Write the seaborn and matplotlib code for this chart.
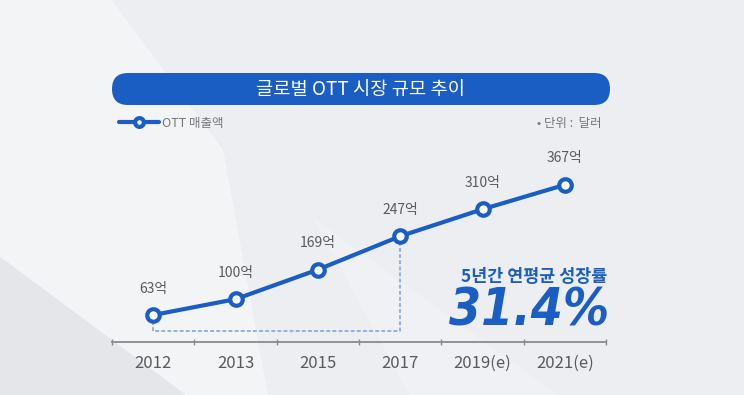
import matplotlib
matplotlib.use("Agg")
import matplotlib.pyplot as plt
import matplotlib.transforms as mtransforms
from matplotlib.patches import FancyBboxPatch, Polygon
import seaborn as sns
import pandas as pd

# 데이터
years = ["2012", "2013", "2015", "2017", "2019(e)", "2021(e)"]
sales = [63, 100, 169, 247, 310, 367]
value_labels = [f"{v}억" for v in sales]
series_name = "OTT 매출액"
title = "글로벌 OTT 시장 규모 추이"
unit_note = "• 단위 :  달러"
cagr_label = "5년간 연평균 성장률"
cagr_value = "31.4%"

BLUE = "#1a5ec4"
GRAY = "#5a5a5a"

sns.set_theme(style="white")
plt.rcParams["font.family"] = ["Noto Sans CJK KR", "DejaVu Sans"]

df = pd.DataFrame({"year": years, "sales": sales})

fig = plt.figure(figsize=(7.44, 3.95), dpi=100, facecolor="#eceef1")

# 배경 광택 느낌 (은은하게)
fig.add_artist(Polygon([(0.0, 1.0), (0.15, 1.0), (0.30, 0.62), (0.36, 0.0), (0.0, 0.0)],
                       closed=True, transform=fig.transFigure,
                       facecolor="#f3f4f6", edgecolor="none", zorder=0))
fig.add_artist(Polygon([(0.0, 0.35), (0.25, 0.0), (0.0, 0.0)],
                       closed=True, transform=fig.transFigure,
                       facecolor="#e4e6ea", edgecolor="none", zorder=0))
fig.add_artist(Polygon([(0.55, 0.0), (0.75, 0.0), (0.42, 0.45)],
                       closed=True, transform=fig.transFigure,
                       facecolor="#f0f1f4", edgecolor="none", zorder=0))

ax = fig.add_axes([112 / 744, 53 / 395, 494 / 744, 182 / 395])
ax.set_facecolor("none")

sns.lineplot(data=df, x="year", y="sales", ax=ax, color=BLUE, linewidth=3,
             marker="o", markersize=9, markerfacecolor="white",
             markeredgecolor=BLUE, markeredgewidth=3, label=series_name,
             zorder=5, sort=False)

ax.set_xlim(-0.5, len(years) - 0.5)
ax.set_ylim(0, 425)

# 값 라벨
for i, (v, lab) in enumerate(zip(sales, value_labels)):
    ax.annotate(lab, (i, v), xytext=(0, 19), textcoords="offset points",
                ha="center", va="center", fontsize=10, color=GRAY)

# 점선 브래킷 (2012 ~ 2017)
ax.plot([0, 0, 3, 3], [sales[0] - 14, 25, 25, sales[3] - 16], ls=(0, (2.5, 1.5)),
        color="#7b9bd6", lw=1.1, zorder=2)

# 축 스타일
for s in ["top", "right", "left"]:
    ax.spines[s].set_visible(False)
ax.spines["bottom"].set_color("#8a8a8a")
ax.spines["bottom"].set_linewidth(1.3)
ax.set_yticks([])
ax.set_xticks(range(len(years)))
ax.set_xticklabels(years, fontsize=12, color=GRAY)
ax.set_xticks([i - 0.5 for i in range(len(years) + 1)], minor=True)
ax.tick_params(axis="x", which="major", length=0, pad=9)
ax.tick_params(axis="x", which="minor", length=5, width=1, color="#8a8a8a",
               direction="inout", bottom=True)
ax.set_xlabel("")
ax.set_ylabel("")

# 범례
leg = ax.legend(loc="center left", bbox_to_anchor=(108 / 744, 272 / 395),
                bbox_transform=fig.transFigure, frameon=False, fontsize=9,
                handlelength=3.2, handletextpad=0.2, labelcolor="#777777",
                markerscale=0.7)
fig.text(602 / 744, 272 / 395, unit_note, ha="right", va="center",
         fontsize=9, color="#777777")

# 제목 바
bar = FancyBboxPatch((112, 290), 498, 32,
                     boxstyle="round,pad=0,rounding_size=16",
                     transform=mtransforms.IdentityTransform(),
                     facecolor=BLUE, edgecolor="none", zorder=3)
fig.add_artist(bar)
fig.text(361 / 744, 306 / 395, title, ha="center", va="center",
         fontsize=13.5, fontweight="medium", color="white", zorder=4)

# 연평균 성장률
fig.text(607 / 744, 118 / 395, cagr_label, ha="right", va="center",
         fontsize=12.5, fontweight="black", color=BLUE)
fig.text(609 / 744, 84 / 395, cagr_value, ha="right", va="center",
         fontsize=37, fontweight="bold", fontstyle="italic",
         fontstretch="condensed", color=BLUE, family="DejaVu Sans")

fig.savefig("out.png", dpi=100, facecolor=fig.get_facecolor())
